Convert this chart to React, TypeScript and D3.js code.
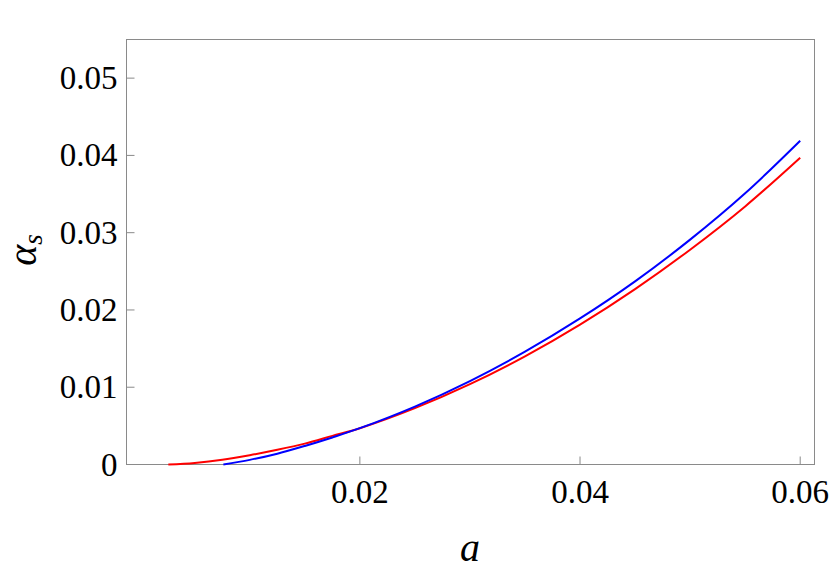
import React, { useEffect, useRef } from 'react';
import * as d3 from 'd3';

const X_TICKS = [0.02, 0.04, 0.06];
const Y_TICKS = [0, 0.01, 0.02, 0.03, 0.04, 0.05];

// blue curve
const BLUE_A = [0.0076, 0.01, 0.0125, 0.015, 0.0175, 0.02, 0.025, 0.03, 0.035, 0.04, 0.045, 0.05, 0.055, 0.06];
const BLUE_S = [0, 0.0006, 0.0014, 0.0024, 0.0035, 0.0047, 0.0075, 0.0108, 0.0146, 0.0189, 0.0237, 0.0291, 0.0351, 0.0419];

// red curve
const RED_A = [0.0026, 0.005, 0.0075, 0.01, 0.0125, 0.015, 0.0175, 0.02, 0.025, 0.03, 0.035, 0.04, 0.045, 0.05, 0.055, 0.06];
const RED_S = [0, 0.0002, 0.0006, 0.0012, 0.0019, 0.0027, 0.0037, 0.0047, 0.0073, 0.0104, 0.014, 0.0181, 0.0227, 0.0278, 0.0334, 0.0397];

const App = () => {
  const ref = useRef<SVGSVGElement>(null);

  useEffect(() => {
    const width = 831,
      height = 570,
      margin = { top: 39.5, right: 16.5, bottom: 105.5, left: 126.5 };

    const svg = d3.select(ref.current);
    svg.selectAll('*').remove();

    const x = d3.scaleLinear().domain([-0.0012, 0.0613]).range([margin.left, width - margin.right]);
    const y = d3.scaleLinear().domain([0, 0.055]).range([height - margin.bottom, margin.top]);

    const font = '"Liberation Serif", "Times New Roman", serif';
    const frameColor = '#8a8a8a';

    // frame
    svg
      .append('rect')
      .attr('x', x.range()[0])
      .attr('y', y.range()[1])
      .attr('width', x.range()[1] - x.range()[0])
      .attr('height', y.range()[0] - y.range()[1])
      .attr('fill', 'none')
      .attr('stroke', frameColor)
      .attr('stroke-width', 1);

    // x ticks
    svg
      .append('g')
      .selectAll('line')
      .data(X_TICKS)
      .enter()
      .append('line')
      .attr('x1', d => x(d))
      .attr('x2', d => x(d))
      .attr('y1', y(0))
      .attr('y2', y(0) - 8)
      .attr('stroke', frameColor);

    svg
      .append('g')
      .selectAll('text')
      .data(X_TICKS)
      .enter()
      .append('text')
      .attr('x', d => x(d))
      .attr('y', y(0) + 38)
      .attr('text-anchor', 'middle')
      .style('font-family', font)
      .style('font-size', '33px')
      .text(d => d.toFixed(2));

    // y ticks
    svg
      .append('g')
      .selectAll('line')
      .data(Y_TICKS)
      .enter()
      .append('line')
      .attr('x1', x.range()[0])
      .attr('x2', x.range()[0] + 8)
      .attr('y1', d => y(d))
      .attr('y2', d => y(d))
      .attr('stroke', frameColor);

    svg
      .append('g')
      .selectAll('text')
      .data(Y_TICKS)
      .enter()
      .append('text')
      .attr('x', x.range()[0] - 9)
      .attr('y', d => y(d) + 11)
      .attr('text-anchor', 'end')
      .style('font-family', font)
      .style('font-size', '33px')
      .text(d => (d === 0 ? '0' : d.toFixed(2)));

    // curves
    const line = d3
      .line<[number, number]>()
      .x(d => x(d[0]))
      .y(d => y(d[1]))
      .curve(d3.curveCatmullRom.alpha(0.5));

    svg
      .append('path')
      .datum(RED_A.map((a, i) => [a, RED_S[i]] as [number, number]))
      .attr('d', line)
      .attr('fill', 'none')
      .attr('stroke', '#ff0000')
      .attr('stroke-width', 2);

    svg
      .append('path')
      .datum(BLUE_A.map((a, i) => [a, BLUE_S[i]] as [number, number]))
      .attr('d', line)
      .attr('fill', 'none')
      .attr('stroke', '#0000ff')
      .attr('stroke-width', 2);

    // axis labels
    svg
      .append('text')
      .attr('x', 470)
      .attr('y', 561)
      .attr('text-anchor', 'middle')
      .style('font-family', font)
      .style('font-style', 'italic')
      .style('font-size', '40px')
      .text('a');

    const yl = svg
      .append('text')
      .attr('transform', 'translate(36, 250) rotate(-90)')
      .attr('text-anchor', 'middle')
      .style('font-family', font)
      .style('font-style', 'italic')
      .style('font-size', '40px');
    yl.append('tspan').text('α');
    yl.append('tspan').attr('dy', 6).style('font-size', '27px').text('s');
  }, []);

  return (
    <svg
      ref={ref}
      width={831}
      height={570}
      style={{ position: 'absolute', left: 0, top: 0, background: '#fff' }}
    />
  );
};

export default App;
